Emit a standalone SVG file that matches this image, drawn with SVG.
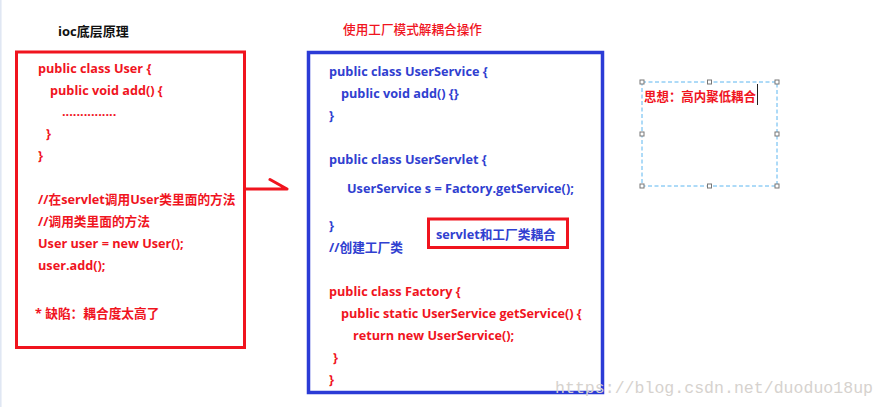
<svg xmlns="http://www.w3.org/2000/svg" width="886" height="407" viewBox="0 0 886 407">
<style>
text{font-family:"Open Sans","Noto Sans CJK SC",sans-serif;font-size:12.7px;font-weight:700}
.r{fill:#f0141e}
.b{fill:#3040d0}
.k{fill:#111;font-size:13px}
.t{font-weight:500;font-size:12.8px}
.wm{font-family:"Liberation Mono","DejaVu Sans Mono",monospace;font-size:17px;font-weight:400;fill:#d6d2ce}
.h{fill:#fff;stroke:#777;stroke-width:1}
</style>
<rect x="0" y="0" width="886" height="407" fill="#fff"/>
<line x1="0.8" y1="0" x2="0.8" y2="407" stroke="#dfe6f3" stroke-width="1.5"/>

<g id="title-left"><text class="k" x="58" y="36">ioc底层原理</text></g>
<g id="title-right"><text class="r t" x="343" y="34" textLength="139" lengthAdjust="spacingAndGlyphs">使用工厂模式解耦合操作</text></g>

<g id="box-ioc">
<rect x="16.5" y="52" width="228" height="295.5" fill="none" stroke="#f0141e" stroke-width="3"/>
<text class="r" x="38" y="73">public class User {</text>
<text class="r" x="50" y="95">public void add() {</text>
<text class="r" x="62" y="116">...............</text>
<text class="r" x="46" y="138">}</text>
<text class="r" x="38" y="160">}</text>
<text class="r" x="38" y="204">//在servlet调用User类里面的方法</text>
<text class="r" x="38" y="226">//调用类里面的方法</text>
<text class="r" x="38" y="248">User user = new User();</text>
<text class="r" x="38" y="270">user.add();</text>
<text class="r" x="35" y="318">* 缺陷：耦合度太高了</text>
</g>

<g id="box-factory">
<rect x="308.5" y="52.5" width="294" height="340" fill="none" stroke="#2b3bd6" stroke-width="3.5"/>
<text class="b" x="329" y="76">public class UserService {</text>
<text class="b" x="341" y="98">public void add() {}</text>
<text class="b" x="329" y="120">}</text>
<text class="b" x="329" y="164">public class UserServlet {</text>
<text class="b" x="347" y="193">UserService s = Factory.getService();</text>
<text class="b" x="329" y="230">}</text>
<text class="b" x="329" y="252">//创建工厂类</text>
<text class="r" x="329" y="296">public class Factory {</text>
<text class="r" x="341" y="318">public static UserService getService() {</text>
<text class="r" x="353" y="340">return new UserService();</text>
<text class="r" x="333" y="362">}</text>
<text class="r" x="329" y="384">}</text>
</g>

<g id="note-coupling">
<rect x="428.5" y="219" width="139" height="28.5" fill="none" stroke="#f0141e" stroke-width="3"/>
<text class="b" x="436" y="239">servlet和工厂类耦合</text>
</g>

<g id="note-idea">
<rect x="642" y="82" width="135" height="104" fill="none" stroke="#5cb6f0" stroke-width="1" stroke-dasharray="4,2.5"/>
<rect class="h" x="640" y="80" width="4" height="4"/>
<rect class="h" x="707.5" y="80" width="4" height="4"/>
<rect class="h" x="775" y="80" width="4" height="4"/>
<rect class="h" x="640" y="132" width="4" height="4"/>
<rect class="h" x="775" y="132" width="4" height="4"/>
<rect class="h" x="640" y="184" width="4" height="4"/>
<rect class="h" x="707.5" y="184" width="4" height="4"/>
<rect class="h" x="775" y="184" width="4" height="4"/>
<text class="r" x="644" y="101" textLength="112" lengthAdjust="spacingAndGlyphs">思想：高内聚低耦合</text>
<line x1="757.5" y1="84" x2="757.5" y2="105" stroke="#222" stroke-width="1"/>
</g>

<g id="connectors">
<path d="M246 189 H287 M270 179.5 L287 189" fill="none" stroke="#f0141e" stroke-width="3" stroke-linecap="round"/>
</g>

<text class="wm" x="555" y="393" textLength="318" lengthAdjust="spacingAndGlyphs">https://blog.csdn.net/duoduo18up</text>
</svg>
